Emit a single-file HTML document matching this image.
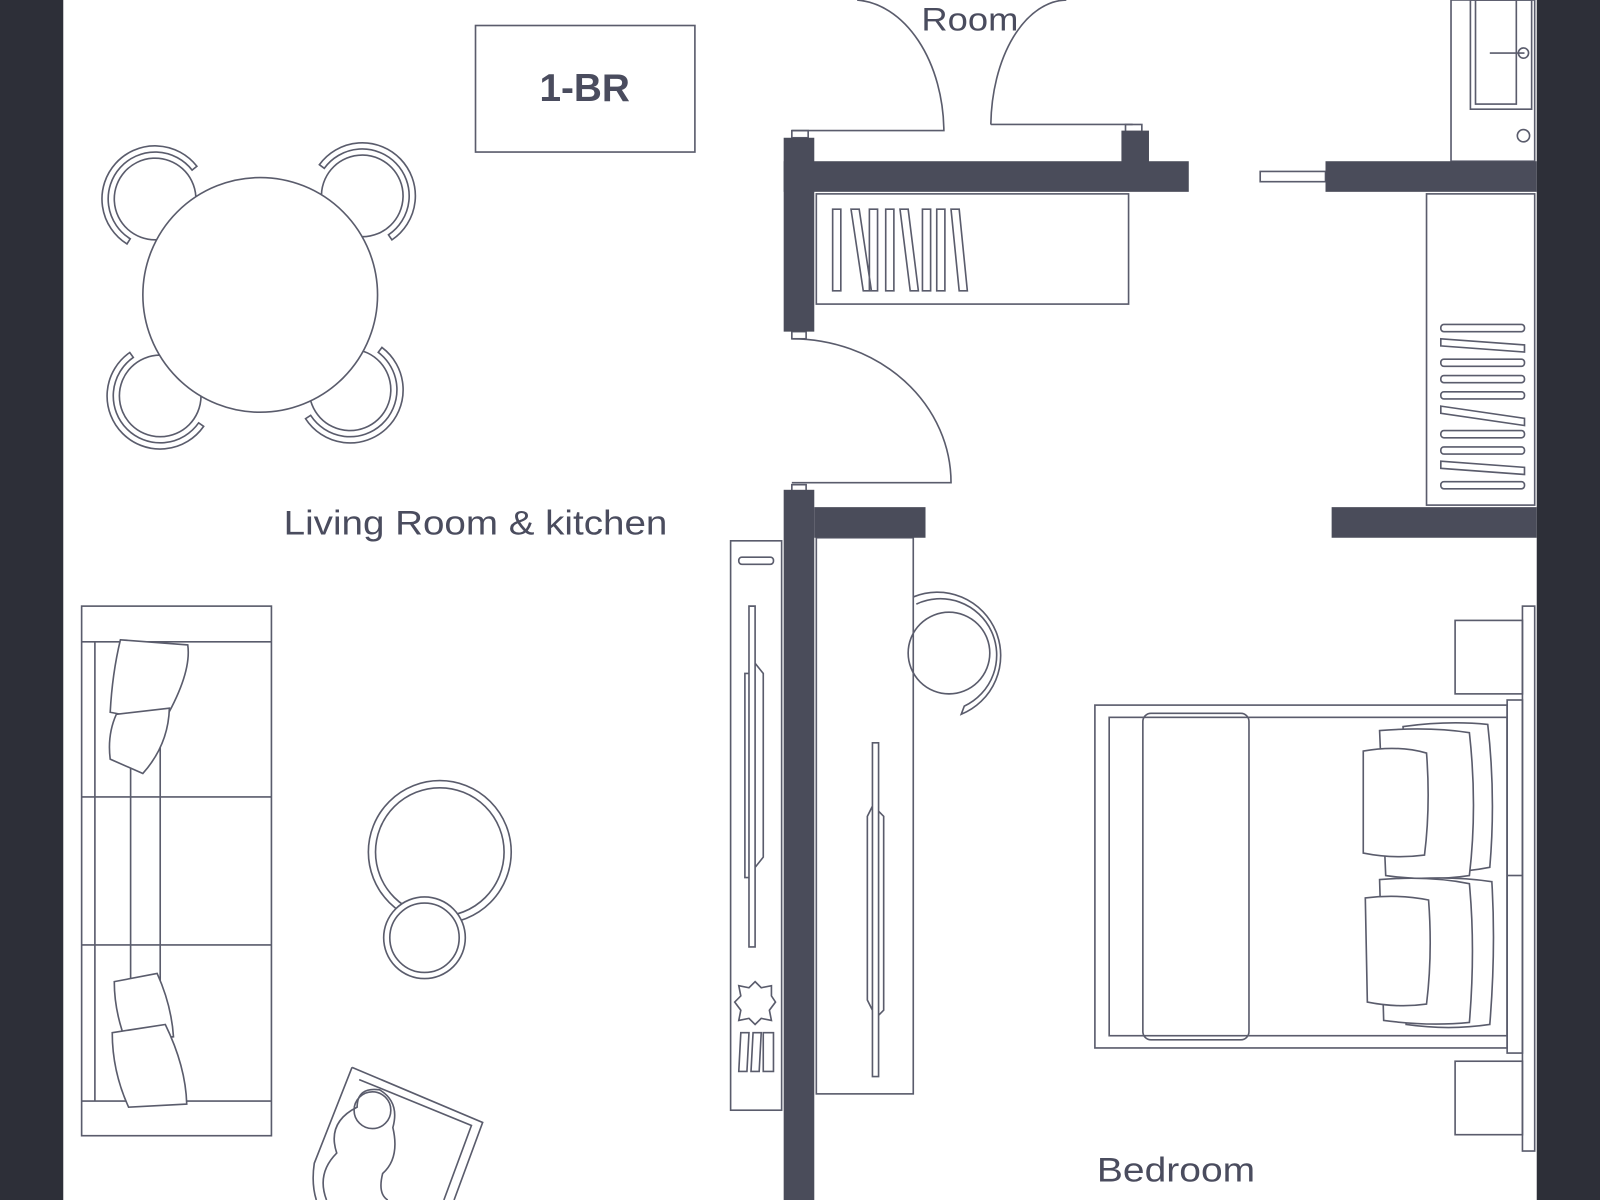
<!DOCTYPE html>
<html><head><meta charset="utf-8"><style>
html,body{margin:0;padding:0;background:#fff;}
svg{display:block;}
text{font-family:"Liberation Sans",sans-serif;fill:#4a4c5e;}
</style></head><body>
<svg width="1600" height="1200" viewBox="0 0 1568 1176" preserveAspectRatio="none" xmlns="http://www.w3.org/2000/svg">
<defs>
<g id="chair">
<circle cx="0" cy="0" r="40"/>
<path d="M-45.3 8 A46 46 0 1 1 45.3 8 L51.2 9 A52 52 0 1 0 -51.2 9 Z"/>
</g>
</defs>
<rect x="0" y="0" width="1568" height="1176" fill="#fff"/>
<rect x="0" y="0" width="62" height="1176" fill="#2d2f38"/>
<rect x="1506" y="0" width="62" height="1176" fill="#2d2f38"/>
<g fill="none" stroke="#5a5c6c" stroke-width="1.6">
<rect x="466" y="25" width="215" height="124"/>
<path d="M776 128 H925 A 90 130 0 0 0 840 0"/>
<rect x="776" y="128" width="16" height="7"/>
<path d="M971 122 H1110 M971 122 A 75 125 0 0 1 1045 0"/>
<rect x="1103" y="122" width="16" height="7"/>
<path d="M1235 168 H1299 V178 H1235 Z"/>
<rect x="800" y="190" width="306" height="108"/>
<path d="M816 205 V285 H824 V205 Z M834 205 L846 285 H854 L842 205 Z M852 205 V285 H860 V205 Z M868 205 V285 H876 V205 Z M882 205 L892 285 H900 L890 205 Z M904 205 V285 H912 V205 Z M918 205 V285 H926 V205 Z M932 205 L940 285 H948 L940 205 Z"/>
<rect x="776" y="325" width="14" height="7"/>
<rect x="776" y="475" width="14" height="7"/>
<path d="M776 332 A 156 141 0 0 1 932 473 H776"/>
<rect x="1398" y="190" width="106" height="305"/>
<g>
<rect x="1412" y="318" width="82" height="7" rx="3"/>
<path d="M1412 332 L1494 338 V345 L1412 339 Z"/>
<rect x="1412" y="352" width="82" height="7" rx="3"/>
<rect x="1412" y="368" width="82" height="7" rx="3"/>
<rect x="1412" y="384" width="82" height="7" rx="3"/>
<path d="M1412 398 L1494 410 V417 L1412 405 Z"/>
<rect x="1412" y="422" width="82" height="7" rx="3"/>
<rect x="1412" y="438" width="82" height="7" rx="3"/>
<path d="M1412 452 L1494 458 V465 L1412 459 Z"/>
<rect x="1412" y="472" width="82" height="7" rx="3"/>
</g>
<rect x="1422" y="0" width="82" height="158"/>
<rect x="1441" y="0" width="60" height="107"/>
<rect x="1446" y="0" width="40" height="102"/>
<path d="M1460 52 H1494"/>
<circle cx="1493" cy="52" r="5"/>
<circle cx="1493" cy="133" r="6"/>
<!-- dining chairs -->
<use href="#chair" transform="translate(152,195) rotate(-48)"/>
<use href="#chair" transform="translate(355,192) rotate(46)"/>
<use href="#chair" transform="translate(157,388) rotate(-135)"/>
<use href="#chair" transform="translate(343,382) rotate(137)"/>
<circle cx="255" cy="289" r="115" fill="#fff"/>
<rect x="80" y="594" width="186" height="519"/>
<path d="M80 629 H266 M80 1079 H266 M93 629 V1079 M80 781 H266 M80 926 H266 M128 629 V1079 M157 629 V1079"/>
<path d="M118 627 L184 632 Q188 660 160 708 L108 698 Q110 660 118 627 Z" fill="#fff"/>
<path d="M114 700 L166 694 Q165 730 140 758 L108 744 Q105 720 114 700 Z" fill="#fff"/>
<path d="M112 962 L154 954 Q168 985 170 1016 L124 1022 Q112 992 112 962 Z" fill="#fff"/>
<path d="M110 1012 L162 1004 Q182 1045 183 1082 L126 1085 Q110 1050 110 1012 Z" fill="#fff"/>
<circle cx="431" cy="835" r="70"/>
<circle cx="431" cy="835" r="63"/>
<circle cx="416" cy="919" r="40" fill="#fff"/>
<circle cx="416" cy="919" r="34"/>
<path d="M345 1046 L473 1100 L445 1176 M352 1058 L462 1103 L435 1176 M345 1046 L308 1140 Q305 1160 310 1176"/>
<path d="M320 1176 Q310 1150 330 1130 Q320 1100 350 1085 Q350 1065 372 1068 Q392 1080 385 1105 Q392 1135 375 1150 Q370 1170 380 1176"/>
<circle cx="365" cy="1088" r="18"/>
<rect x="716" y="530" width="50" height="558"/>
<rect x="724" y="546" width="34" height="7" rx="3"/>
<path d="M734 594 H740 V928 H734 Z M730 660 L734 660 V860 L730 860 Z M740 650 L748 660 V840 L740 850"/>
<path d="M740 962 L746 968 L756 966 L756 976 L760 982 L754 990 L756 1000 L746 998 L740 1004 L734 998 L724 1000 L726 990 L720 982 L726 976 L724 966 L734 968 Z"/>
<path d="M726 1012 L734 1012 L732 1050 L724 1050 Z M738 1012 L746 1012 L744 1050 L736 1050 Z M748 1012 H758 V1050 H748 Z"/>
<rect x="800" y="527" width="95" height="545"/>
<path d="M855 728 H861 V1055 H855 Z M850 800 L855 790 V990 L850 980 Z M861 795 L866 800 V990 L861 995"/>
<circle cx="930" cy="640" r="40"/>
<path d="M898 592 A52 52 0 1 1 945 692 L942 700 A60 60 0 1 0 895 585"/>
<rect x="1073" y="691" width="404" height="336"/>
<rect x="1087" y="703" width="390" height="312"/>
<rect x="1120" y="699" width="104" height="320" rx="8"/>
<rect x="1477" y="686" width="15" height="346"/>
<rect x="1492" y="594" width="12" height="534"/>
<path d="M1477 858 H1492"/>
<rect x="1426" y="608" width="66" height="72"/>
<rect x="1426" y="1040" width="66" height="72"/>
<path d="M1375 712 Q1420 706 1458 710 Q1466 780 1460 850 Q1420 858 1380 852 Z" fill="#fff"/>
<path d="M1352 716 Q1400 712 1440 718 Q1448 790 1440 858 Q1400 864 1358 858 Z" fill="#fff"/>
<path d="M1336 736 Q1370 730 1398 738 Q1402 790 1396 838 Q1366 842 1336 836 Z" fill="#fff"/>
<path d="M1375 862 Q1420 858 1462 864 Q1466 930 1460 1004 Q1420 1010 1378 1004 Z" fill="#fff"/>
<path d="M1352 862 Q1400 858 1440 866 Q1446 930 1440 1002 Q1400 1006 1356 1000 Z" fill="#fff"/>
<path d="M1338 880 Q1370 876 1400 882 Q1404 935 1398 984 Q1370 988 1340 982 Z" fill="#fff"/>
</g>
<g fill="#4a4c5a">
<rect x="768" y="158" width="397" height="30"/>
<rect x="768" y="135" width="30" height="190"/>
<rect x="1099" y="128" width="27" height="32"/>
<rect x="1299" y="158" width="207" height="30"/>
<rect x="768" y="480" width="30" height="696"/>
<rect x="798" y="497" width="109" height="30"/>
<rect x="1305" y="497" width="201" height="30"/>
</g>
<text x="573" y="99" font-size="38" font-weight="bold" text-anchor="middle" fill="#4a4c6a">1-BR</text>
<text x="903" y="30" font-size="32" textLength="95" lengthAdjust="spacingAndGlyphs">Room</text>
<text x="278" y="524" font-size="34" textLength="376" lengthAdjust="spacingAndGlyphs">Living Room &amp; kitchen</text>
<text x="1075" y="1158" font-size="34" textLength="155" lengthAdjust="spacingAndGlyphs">Bedroom</text>
</svg>
</body></html>
